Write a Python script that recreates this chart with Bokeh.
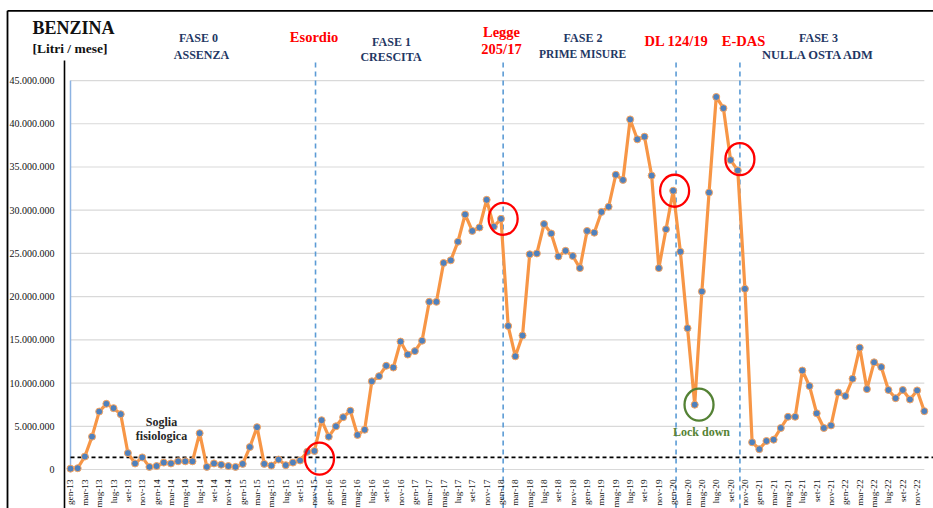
import math
from bokeh.plotting import figure
from bokeh.models import FixedTicker, Label, CustomJSTickFormatter
from bokeh.embed import file_html
from bokeh.resources import INLINE

# ---------------- data ----------------
MONTHS = ["gen", "feb", "mar", "apr", "mag", "giu", "lug", "ago", "set", "ott", "nov", "dic"]
YEARS = ["13", "14", "15", "16", "17", "18", "19", "20", "21", "22"]
month_labels = [f"{m}-{y}" for y in YEARS for m in MONTHS]

# Benzina, milioni di litri / mese
v2013 = [0.1, 0.15, 1.5, 3.8, 6.7, 7.6, 7.1, 6.4, 1.9, 0.7, 1.4, 0.3]
v2014 = [0.4, 0.8, 0.7, 0.95, 0.95, 0.95, 4.2, 0.3, 0.7, 0.55, 0.4, 0.3]
v2015 = [0.65, 2.6, 4.9, 0.65, 0.45, 1.15, 0.5, 0.8, 1.05, 2.05, 2.15, 5.7]
v2016 = [3.8, 5.0, 6.05, 6.8, 4.0, 4.6, 10.2, 10.8, 12.0, 11.8, 14.8, 13.3]
v2017 = [13.7, 14.9, 19.4, 19.4, 23.9, 24.2, 26.35, 29.5, 27.6, 28.0, 31.2, 28.1]
v2018 = [29.0, 16.6, 13.1, 15.5, 24.9, 25.0, 28.4, 27.3, 24.65, 25.3, 24.7, 23.3]
v2019 = [27.6, 27.4, 29.8, 30.4, 34.1, 33.5, 40.5, 38.2, 38.5, 34.0, 23.3, 27.8]
v2020 = [32.25, 25.2, 16.35, 7.5, 20.6, 32.05, 43.1, 41.8, 35.8, 34.6, 20.9, 3.15]
v2021 = [2.35, 3.3, 3.45, 4.8, 6.1, 6.1, 11.45, 9.65, 6.5, 4.8, 5.1, 8.9]
v2022 = [8.5, 10.5, 14.1, 9.3, 12.4, 11.85, 9.2, 8.25, 9.2, 8.1, 9.15, 6.75]

SCALE = 1_000_000
values_mln = v2013 + v2014 + v2015 + v2016 + v2017 + v2018 + v2019 + v2020 + v2021 + v2022
litri = [v * SCALE for v in values_mln]
idx = list(range(len(litri)))

threshold_mln = 1.4
y_ticks_mln = [0, 5, 10, 15, 20, 25, 30, 35, 40, 45]
x_tick_idx = list(range(0, len(month_labels), 2))

# event vertical lines (position on month axis)
event_pos = [34.15, 60.3, 84.4, 93.3]

# annotation circles: (anchor month, dx months, dy mln, colour)
circles = [("nov-15", 0.7, -0.9, "#FF0000"),
           ("gen-18", 0.3, 0.0, "#FF0000"),
           ("gen-20", 0.2, 0.0, "#FF0000"),
           ("set-20", 1.3, 0.1, "#FF0000"),
           ("apr-20", 0.6, 0.0, "#548235")]

# ---------------- figure ----------------
W, H = 933, 508
x_start, x_end = -9.756, 120.28
y_start, y_end = -4.512, 54.26
y_axis_x = -0.836        # where the vertical value axis sits on the month scale
axis_top = 47.32         # top of the value axis line (mln)
event_top = 47.55        # top of the event dashed lines (mln)

p = figure(width=W, height=H,
           x_range=(x_start, x_end),
           y_range=(y_start * SCALE, y_end * SCALE),
           output_backend="svg", toolbar_location=None,
           min_border_left=0, min_border_right=0,
           min_border_top=0, min_border_bottom=0)
p.outline_line_color = None
p.background_fill_color = "white"
p.border_fill_color = "white"
p.grid.visible = False

SERIF = "Liberation Serif"

# y axis (drawn inside the frame at a fixed spot)
yt = [t * SCALE for t in y_ticks_mln]
ya = p.yaxis[0]
ya.fixed_location = y_axis_x
ya.ticker = FixedTicker(ticks=yt)
ya.formatter = CustomJSTickFormatter(
    code="return Math.round(tick).toString().replace(/\\B(?=(\\d{3})+(?!\\d))/g, '.');")
ya.axis_line_color = None
ya.major_tick_line_color = None
ya.minor_tick_line_color = None
ya.major_label_standoff = 4
ya.major_label_text_font = SERIF
ya.major_label_text_font_size = "10px"
ya.major_label_text_color = "#111111"

# x axis
xa = p.xaxis[0]
xa.fixed_location = 0
xa.ticker = FixedTicker(ticks=x_tick_idx)
xa.formatter = CustomJSTickFormatter(args=dict(labels=month_labels),
                                     code="return labels[Math.round(tick)] || '';")
xa.major_label_orientation = math.pi / 2
xa.axis_line_color = None
xa.major_tick_line_color = None
xa.minor_tick_line_color = None
xa.major_label_standoff = 4
xa.major_label_text_font = SERIF
xa.major_label_text_font_size = "9.2px"
xa.major_label_text_color = "#111111"

# gridlines from first to last month
p.segment(x0=[idx[0]] * len(yt), y0=yt, x1=[idx[-1]] * len(yt), y1=yt,
          line_color="#D9D9D9", line_width=1.2)

# outer frame lines (top and left)
p.segment(x0=[-8.78, -8.78], y0=[53.07 * SCALE, 53.07 * SCALE],
          x1=[x_end, -8.78], y1=[53.07 * SCALE, y_start * SCALE],
          line_color="black", line_width=1.8)

# value axis line
p.segment(x0=[y_axis_x], y0=[y_start * SCALE], x1=[y_axis_x], y1=[axis_top * SCALE],
          line_color="black", line_width=1.6)

# thin blue line at first category
p.segment(x0=[idx[0]], y0=[0], x1=[idx[0]], y1=[yt[-1]], line_color="#8DB3E2", line_width=1.5)

# threshold
p.segment(x0=[idx[0]], y0=[threshold_mln * SCALE], x1=[x_end], y1=[threshold_mln * SCALE],
          line_color="black", line_dash="4 3", line_width=1.6)

# event lines
p.segment(x0=event_pos, y0=[y_start * SCALE] * len(event_pos),
          x1=event_pos, y1=[event_top * SCALE] * len(event_pos),
          line_color="#5B9BD5", line_dash="5 4", line_width=1.6)

# series
p.line(idx, litri, line_color="#F79646", line_width=3.2)
p.scatter(idx, litri, size=7, fill_color="#4F81BD", line_color="#F9A45E", line_width=1)

# circles
for m, dx, dy, col in circles:
    i = month_labels.index(m)
    p.ellipse(x=[i + dx], y=[(values_mln[i] + dy) * SCALE], width=29, height=32,
              width_units="screen", height_units="screen",
              fill_color=None, line_color=col, line_width=2.3)

# texts
def lab(x, y, text, color, size, style="bold", align="center"):
    p.add_layout(Label(x=x, y=y * SCALE, text=text, text_color=color,
                       text_font=SERIF, text_font_size=size, text_font_style=style,
                       text_align=align, text_baseline="middle"))

NAVY = "#1F3864"
RED = "#FF0000"
lab(-5.3, 51.1, "BENZINA", "#111111", "18px", align="left")
lab(-5.3, 48.75, "[Litri / mese]", "#111111", "13.5px", align="left")

lab(17.84, 49.9, "FASE 0", NAVY, "12px")
lab(18.26, 47.95, "ASSENZA", NAVY, "12px")
lab(44.74, 49.5, "FASE 1", NAVY, "12px")
lab(44.67, 47.7, "CRESCITA", NAVY, "12px")
lab(71.43, 49.9, "FASE 2", NAVY, "12px")
lab(71.36, 48.05, "PRIME MISURE", NAVY, "11.5px")
lab(104.25, 49.9, "FASE 3", NAVY, "12px")
lab(104.25, 47.95, "NULLA OSTA ADM", NAVY, "12.5px")

lab(33.94, 50.0, "Esordio", RED, "14.5px")
lab(60.07, 50.6, "Legge", RED, "14.5px")
lab(60.07, 48.6, "205/17", RED, "14.5px")
lab(84.46, 49.6, "DL 124/19", RED, "14.5px")
lab(93.8, 49.6, "E-DAS", RED, "14.5px")

lab(12.68, 5.47, "Soglia", "#262626", "12px")
lab(12.68, 3.82, "fisiologica", "#262626", "12px")
lab(87.94, 4.32, "Lock down", "#548235", "12px")

open("out.html", "w").write(file_html(p, INLINE))
